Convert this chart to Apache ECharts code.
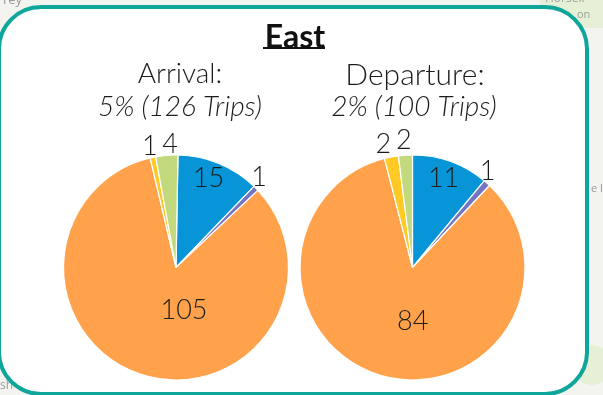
<!DOCTYPE html>
<html><head><meta charset="utf-8">
<style>html,body{margin:0;padding:0;background:#f3f4ef}#c{width:603px;height:395px}</style>
<script src="https://cdn.jsdelivr.net/npm/echarts@6/dist/echarts.min.js"></script>
</head><body><div id="c"></div>
<script>
const categories = ['A','B','C','D','E'];
const arrivalValues = [15,1,105,1,4];
const departureValues = [11,1,84,2,2];
const colors = ['#0795d8','#7474c4','#ffa24b','#ffc926','#c3d97e'];
const FONT = 'Lato';
const TXT = '#1c1c1c';
function mk(vals, center, offs, startAngle){
  return {
    type:'pie', center:center, radius:[0,112.5], startAngle:startAngle, clockwise:true, animation:false,
    silent:true, avoidLabelOverlap:false,
    itemStyle:{borderColor:'#fff',borderWidth:1.2},
    labelLine:{show:false},
    data:vals.map((v,i)=>({
      name:categories[i], value:v,
      itemStyle:{color:colors[i]},
      label:{show:true, formatter:'{c}', fontFamily:FONT, fontWeight:300, fontSize:27, color:TXT,
        position:'inside', offset:offs[i]},
      labelLine:{show:false}
    }))
  };
}
const chart = echarts.init(document.getElementById('c'),null,{renderer:'canvas'});
chart.setOption({
  backgroundColor:'#f3f4ef',
  title:[
    {text:'East',left:290,top:17,textAlign:'center',textStyle:{fontFamily:FONT,fontSize:32,fontWeight:'bold',color:'#111'}},
    {text:'Arrival:',left:175,top:55,textAlign:'center',textStyle:{fontFamily:FONT,fontSize:28,fontWeight:300,color:TXT}},
    {text:'5% (126 Trips)',left:175,top:88,textAlign:'center',textStyle:{fontFamily:FONT,fontSize:28,fontStyle:'italic',fontWeight:300,color:TXT}},
    {text:'Departure:',left:410,top:55,textAlign:'center',textStyle:{fontFamily:FONT,fontSize:30,fontWeight:300,color:TXT}},
    {text:'2% (100 Trips)',left:409,top:88,textAlign:'center',textStyle:{fontFamily:FONT,fontSize:28,fontStyle:'italic',fontWeight:300,color:TXT}}
  ],
  graphic:[
    {type:'circle',z:-3,shape:{cx:592,cy:365,r:20},style:{fill:'#e6f0d6'}},
    {type:'rect',z:-3,shape:{x:540,y:0,width:63,height:28},style:{fill:'#e6f0d6'}},
    {type:'text',z:-2,style:{x:545,y:-7,text:'Horsell',fontFamily:'Open Sans',fontSize:12,fill:'#9aa39a'}},
    {type:'text',z:-2,style:{x:577,y:9,text:'on',fontFamily:'Open Sans',fontSize:11,fill:'#9aa39a'}},
    {type:'text',z:-2,style:{x:591,y:183,text:'e l',fontFamily:'Open Sans',fontSize:11,fill:'#9a9a9a'}},
    {type:'text',z:-2,style:{x:0,y:380,text:'sh',fontFamily:'Open Sans',fontSize:12,fill:'#9a9a9a'}},
    {type:'text',z:-2,style:{x:3,y:-6,text:'rey',fontFamily:'Open Sans',fontSize:13,fill:'#9a9a9a'}},
    {type:'rect',z:-1,shape:{x:-1,y:7,width:588,height:387,r:42},style:{fill:'#fff',stroke:'#0ea59a',lineWidth:4}},
    {type:'rect',z:5,shape:{x:263,y:47,width:62,height:2},style:{fill:'#111'}}
  ],
  series:[
    mk(arrivalValues,[176,267.5],[[10,-34],[41,-49],[25,-14],[-14,-63],[-1,-64]],89),
    mk(departureValues,[412.5,267.5],[[11,-33],[36,-52],[15,-4],[-18,-65],[-5,-68]],90)
  ]
});
</script></body></html>
